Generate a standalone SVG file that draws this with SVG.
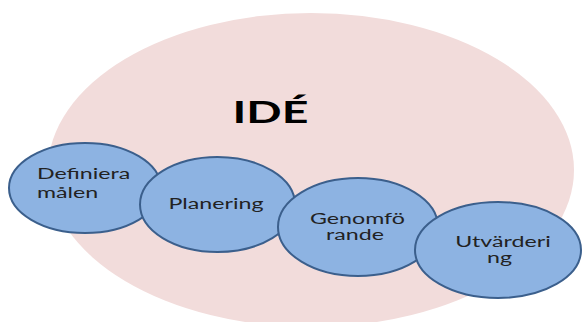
<svg xmlns="http://www.w3.org/2000/svg" width="582" height="322" viewBox="0 0 582 322">
  <style>
    .step { fill: #8db3e2; stroke: #3b5f8c; stroke-width: 2; }
    .lbl { font-family: Lato, "Open Sans", "Liberation Sans", sans-serif; font-size: 16px; fill: #222222; text-anchor: middle; }
    .left { text-anchor: start; }
    .title { font-family: Lato, "Open Sans", "Liberation Sans", sans-serif; font-size: 31px; font-weight: bold; fill: #000; text-anchor: middle; }
  </style>
  <rect width="582" height="322" fill="#ffffff"/>
  <!-- background idea ellipse -->
  <g id="ide">
    <ellipse cx="311" cy="170" rx="263" ry="157" fill="#f2dcdb"/>
    <text class="title" transform="translate(270.5,123) scale(1.5,1)">IDÉ</text>
  </g>
  <g id="connectors"></g>
  <!-- process steps, drawn left to right so each overlaps the previous -->
  <g id="definiera">
    <ellipse class="step" cx="85" cy="188" rx="76" ry="45"/>
    <text class="lbl left" transform="translate(37,179) scale(1.45,1)">Definiera</text>
    <text class="lbl left" transform="translate(37,198) scale(1.45,1)">målen</text>
  </g>
  <g id="planering">
    <ellipse class="step" cx="217.5" cy="204.5" rx="77.5" ry="47.5"/>
    <text class="lbl" transform="translate(216,209) scale(1.45,1)">Planering</text>
  </g>
  <g id="genomforande">
    <ellipse class="step" cx="358" cy="227" rx="80" ry="49"/>
    <text class="lbl" transform="translate(357.5,224) scale(1.45,1)">Genomfö</text>
    <text class="lbl" transform="translate(355,240) scale(1.45,1)">rande</text>
  </g>
  <g id="utvardering">
    <ellipse class="step" cx="498" cy="250" rx="83" ry="48"/>
    <text class="lbl" transform="translate(503,247) scale(1.45,1)">Utvärderi</text>
    <text class="lbl" transform="translate(499.5,263) scale(1.45,1)">ng</text>
  </g>
</svg>
